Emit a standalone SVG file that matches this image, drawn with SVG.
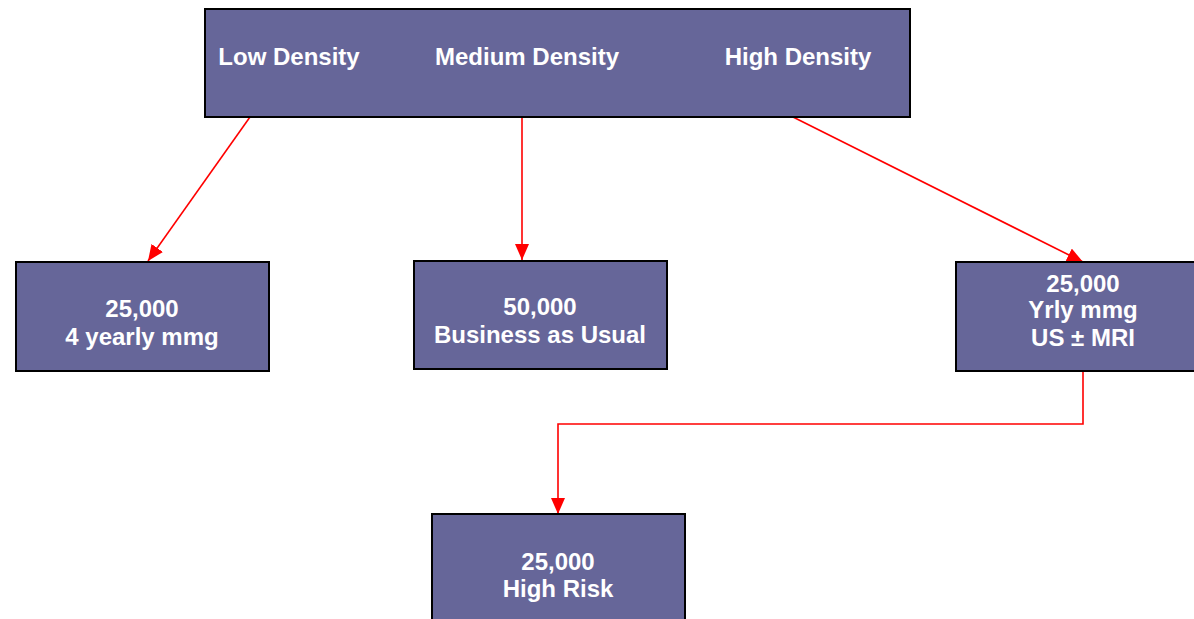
<svg xmlns="http://www.w3.org/2000/svg" width="1194" height="619" viewBox="0 0 1194 619">
<style>
.box{fill:#666699;stroke:#000;stroke-width:2}
.t{font-family:"Liberation Sans",Arial,sans-serif;font-weight:bold;font-size:24px;fill:#fff;text-anchor:middle}
.c{fill:none;stroke:#ff0000;stroke-width:1.6;marker-end:url(#ahb)}
</style>
<defs>
<marker id="ahb" viewBox="0 0 16 14" refX="16" refY="7" markerWidth="16" markerHeight="14" orient="auto" markerUnits="userSpaceOnUse">
<path d="M0,0 L16,7 L0,14 Z" fill="#ff0000"/>
</marker>
</defs>
<rect width="1194" height="619" fill="#fff"/>
<g id="connectors">
<path class="c" d="M250,117 L148,261"/>
<path class="c" d="M522,117 L522,260"/>
<path class="c" d="M793,117 L1083,262"/>
<path class="c" d="M1083,371 L1083,424 L558,424 L558,514"/>
</g>
<g id="top">
<rect class="box" x="205" y="9" width="705" height="108"/>
<text class="t" x="289" y="65">Low Density</text>
<text class="t" x="527" y="65">Medium Density</text>
<text class="t" x="798" y="65">High Density</text>
</g>
<g id="low">
<rect class="box" x="16" y="262" width="253" height="109"/>
<text class="t" x="142" y="317">25,000</text>
<text class="t" x="142" y="345">4 yearly mmg</text>
</g>
<g id="medium">
<rect class="box" x="414" y="261" width="253" height="108"/>
<text class="t" x="540" y="315">50,000</text>
<text class="t" x="540" y="343">Business as Usual</text>
</g>
<g id="high">
<rect class="box" x="956" y="262" width="245" height="109"/>
<text class="t" x="1083" y="292">25,000</text>
<text class="t" x="1083" y="318">Yrly mmg</text>
<text class="t" x="1083" y="346">US ± MRI</text>
</g>
<g id="highrisk">
<rect class="box" x="432" y="514" width="253" height="110"/>
<text class="t" x="558" y="570">25,000</text>
<text class="t" x="558" y="597">High Risk</text>
</g>
</svg>
